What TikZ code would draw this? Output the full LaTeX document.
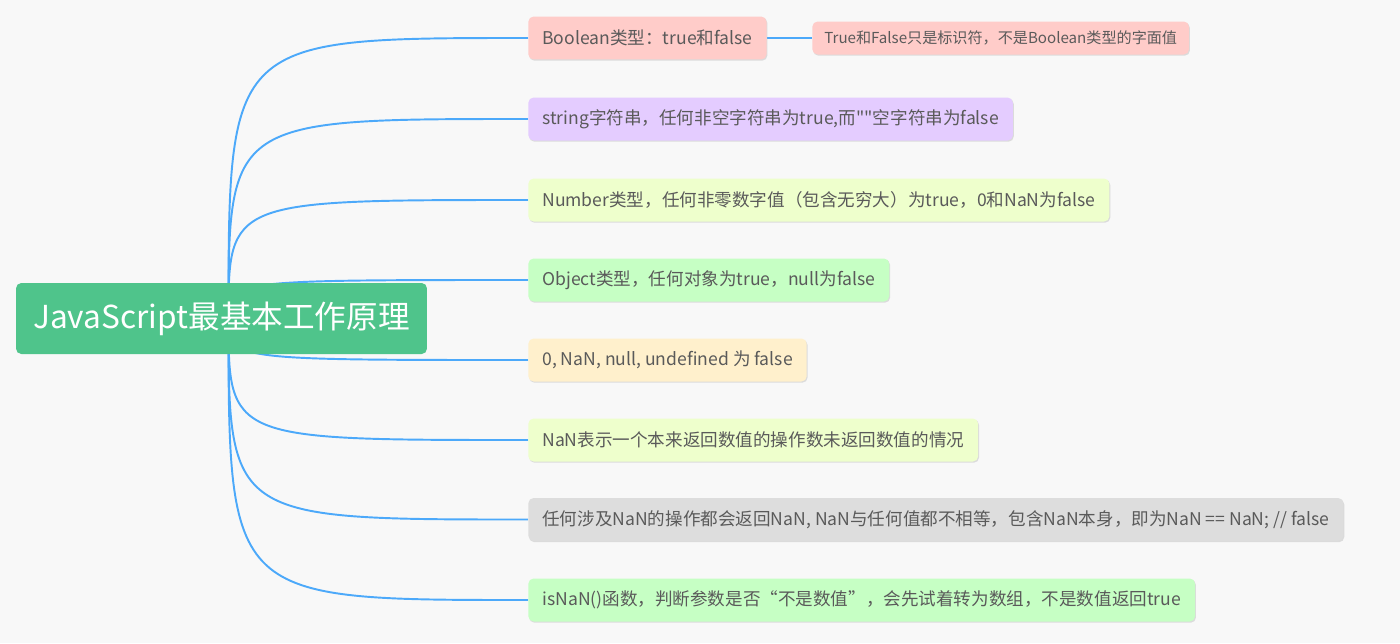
\documentclass[tikz,border=0pt]{standalone}
\usepackage{fontspec}
\setmainfont{Noto Sans CJK SC}[Ligatures=TeXOff]
\usetikzlibrary{backgrounds, shadows}

\definecolor{pagebg}{HTML}{F8F8F8}
\definecolor{rootgreen}{HTML}{4FC48B}
\definecolor{linkblue}{HTML}{4CA9FA}
\definecolor{textgray}{HTML}{5A5A5A}
\definecolor{boolpink}{HTML}{FFCCC9}
\definecolor{strpurple}{HTML}{E4CCFF}
\definecolor{numlime}{HTML}{EEFFCC}
\definecolor{objgreen}{HTML}{C6FFC4}
\definecolor{falseyellow}{HTML}{FFF0CC}
\definecolor{nangray}{HTML}{DDDDDD}

\tikzset{
  topic/.style={fill=#1, rounded corners=3pt, text=textgray, anchor=west,
    minimum height=0.86cm, inner xsep=0.28cm, inner ysep=0pt,
    font=\fontsize{10}{12}\selectfont,
    drop shadow={shadow xshift=0.5pt, shadow yshift=-0.7pt, fill=black!25, opacity=0.5}},
  note/.style={topic=#1, minimum height=0.66cm, inner xsep=0.24cm,
    font=\fontsize{8.6}{10}\selectfont},
  link/.style={draw=linkblue, line width=1.1pt},
}

\begin{document}
\begin{tikzpicture}[x=0.02cm, y=-0.02cm]
    % central topic
    \node[fill=rootgreen, rounded corners=3pt, text=white, minimum width=8.22cm,
      minimum height=1.42cm, font=\fontsize{18}{20}\selectfont] (root) at (221.5,318.5) {JavaScript最基本工作原理};

    % branches
    \node[topic=boolpink] (bool) at (528,38) {Boolean类型：true和false};
    \node[note=boolpink] (boolnote) at (812,38) {True和False只是标识符，不是Boolean类型的字面值};
    \node[topic=strpurple] (str) at (528,119) {string字符串，任何非空字符串为true,而""空字符串为false};
    \node[topic=numlime] (num) at (528,200) {Number类型，任何非零数字值（包含无穷大）为true，0和NaN为false};
    \node[topic=objgreen] (obj) at (528,280) {Object类型，任何对象为true，null为false};
    \node[topic=falseyellow] (falsy) at (528,360) {0, NaN, null, undefined 为 false};
    \node[topic=numlime] (nanmean) at (528,440) {NaN表示一个本来返回数值的操作数未返回数值的情况};
    \node[topic=nangray] (nanops) at (528,519.5) {任何涉及NaN的操作都会返回NaN, NaN与任何值都不相等，包含NaN本身，即为NaN\ ==\ NaN; // false};
    \node[topic=objgreen] (isnan) at (528,600) {isNaN()函数，判断参数是否“不是数值”，会先试着转为数组，不是数值返回true};

    \begin{scope}[on background layer]
    \fill[pagebg] (0,0) rectangle (1400,643);
    \foreach \n in {bool, str, num, obj, falsy, nanmean, nanops, isnan}
      \draw[link] ([xshift=0.14cm]root.center) .. controls ([xshift=0.14cm]root.center |- \n.west) .. (\n.west);
    \draw[link] (bool.east) -- (boolnote.west);
    \end{scope}
\end{tikzpicture}
\end{document}
